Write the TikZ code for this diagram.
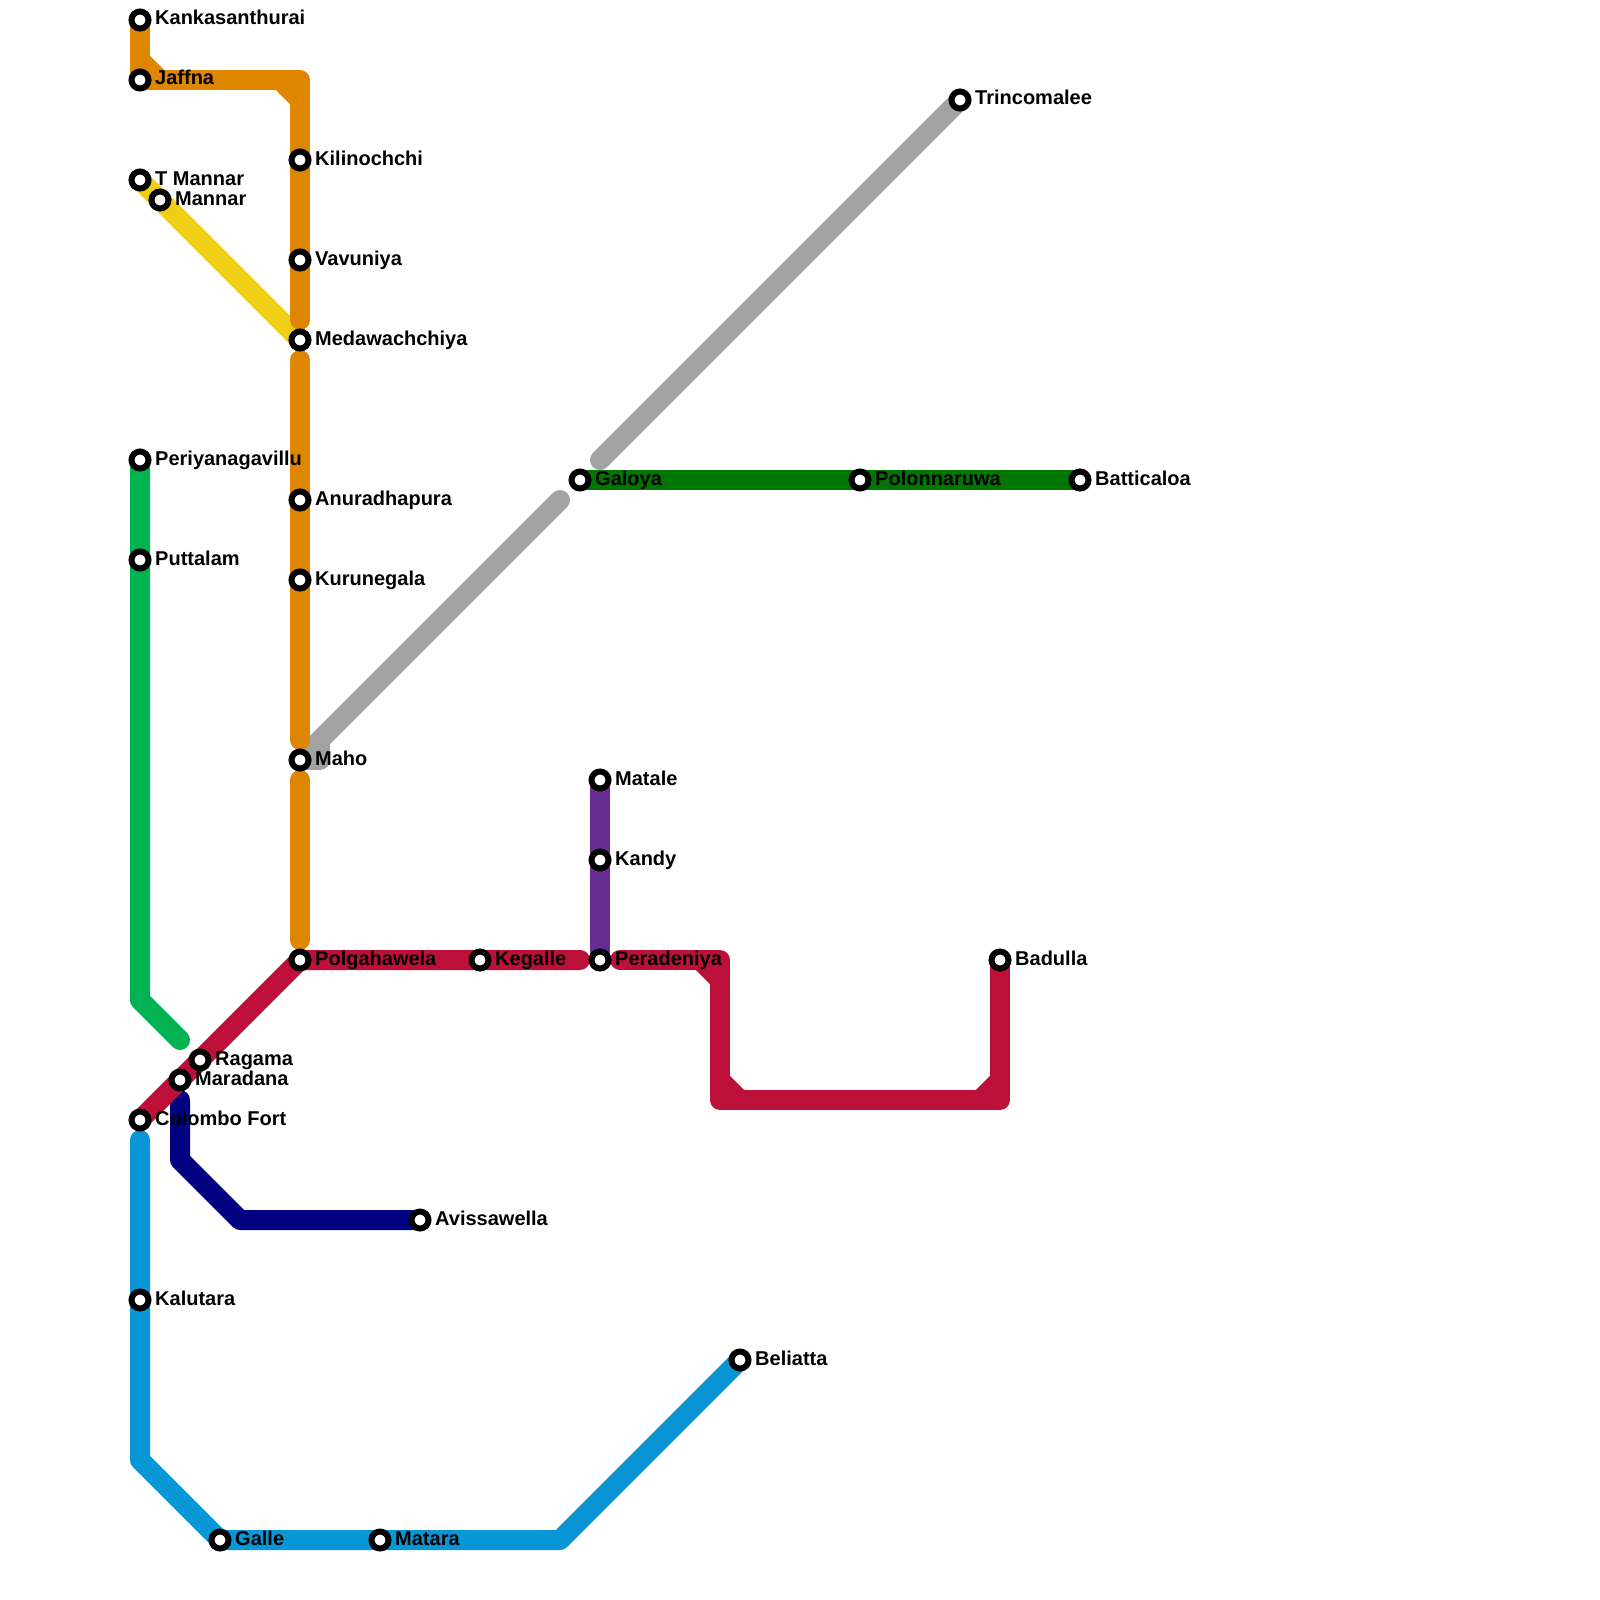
\documentclass[tikz,border=0pt]{standalone}
\usepackage{fontspec}
\setmainfont{Liberation Sans}
\usetikzlibrary{positioning, backgrounds}
\definecolor{railorange}{HTML}{DF8600}
\definecolor{railyellow}{HTML}{F0CE15}
\definecolor{railgreen}{HTML}{00B251}
\definecolor{railred}{HTML}{BD1038}
\definecolor{railnavy}{HTML}{000080}
\definecolor{railblue}{HTML}{0896D7}
\definecolor{railpurple}{HTML}{662C90}
\definecolor{railgrey}{HTML}{A2A2A2}
\definecolor{raildark}{HTML}{007500}
\begin{document}
\begin{tikzpicture}[
    x=1pt, y=-1pt,
    node distance = 3.5pt,
    stop/.style = {circle, draw=black, fill=white, line width=6pt,
                   minimum size=17pt, inner sep=0pt},
    lbl/.style = {font=\fontsize{20}{22}\selectfont\bfseries, inner sep=0pt,
                  text height=15pt, text depth=5pt, text=black},
    rail/.style = {line width=20pt, line cap=round, line join=round},
  ]
    \useasboundingbox (0,0) rectangle (1600,1600);
    % stations, north line
    \node[stop] (kankasanthurai) at (140,20) {};
    \node[lbl, right=of kankasanthurai] (kankasanthurailbl) {Kankasanthurai};
    \node[stop] (jaffna) at (140,80) {};
    \node[lbl, right=of jaffna] (jaffnalbl) {Jaffna};
    \node[stop] (kilinochchi) at (300,160) {};
    \node[lbl, right=of kilinochchi] (kilinochchilbl) {Kilinochchi};
    \node[stop] (vavuniya) at (300,260) {};
    \node[lbl, right=of vavuniya] (vavuniyalbl) {Vavuniya};
    \node[stop] (medawachchiya) at (300,340) {};
    \node[lbl, right=of medawachchiya] (medawachchiyalbl) {Medawachchiya};
    \node[stop] (anuradhapura) at (300,500) {};
    \node[lbl, right=of anuradhapura] (anuradhapuralbl) {Anuradhapura};
    \node[stop] (kurunegala) at (300,580) {};
    \node[lbl, right=of kurunegala] (kurunegalalbl) {Kurunegala};
    \node[stop] (maho) at (300,760) {};
    \node[lbl, right=of maho] (maholbl) {Maho};
    \node[stop] (polgahawela) at (300,960) {};
    \node[lbl, right=of polgahawela] (polgahawelalbl) {Polgahawela};
    % stations, Mannar and Puttalam lines
    \node[stop] (tmannar) at (140,180) {};
    \node[lbl, right=of tmannar] (tmannarlbl) {T Mannar};
    \node[stop] (mannar) at (160,200) {};
    \node[lbl, right=of mannar] (mannarlbl) {Mannar};
    \node[stop] (periyanagavillu) at (140,460) {};
    \node[lbl, right=of periyanagavillu] (periyanagavillulbl) {Periyanagavillu};
    \node[stop] (puttalam) at (140,560) {};
    \node[lbl, right=of puttalam] (puttalamlbl) {Puttalam};
    % stations, Colombo area and coast
    \node[stop] (ragama) at (200,1060) {};
    \node[lbl, right=of ragama] (ragamalbl) {Ragama};
    \node[stop] (maradana) at (180,1080) {};
    \node[lbl, right=of maradana] (maradanalbl) {Maradana};
    \node[stop] (colombo) at (140,1120) {};
    \node[lbl, right=of colombo] (colombolbl) {Colombo Fort};
    \node[stop] (avissawella) at (420,1220) {};
    \node[lbl, right=of avissawella] (avissawellalbl) {Avissawella};
    \node[stop] (kalutara) at (140,1300) {};
    \node[lbl, right=of kalutara] (kalutaralbl) {Kalutara};
    \node[stop] (galle) at (220,1540) {};
    \node[lbl, right=of galle] (gallelbl) {Galle};
    \node[stop] (matara) at (380,1540) {};
    \node[lbl, right=of matara] (mataralbl) {Matara};
    \node[stop] (beliatta) at (740,1360) {};
    \node[lbl, right=of beliatta] (beliattalbl) {Beliatta};
    % stations, hill country
    \node[stop] (kegalle) at (480,960) {};
    \node[lbl, right=of kegalle] (kegallelbl) {Kegalle};
    \node[stop] (peradeniya) at (600,960) {};
    \node[lbl, right=of peradeniya] (peradeniyalbl) {Peradeniya};
    \node[stop] (kandy) at (600,860) {};
    \node[lbl, right=of kandy] (kandylbl) {Kandy};
    \node[stop] (matale) at (600,780) {};
    \node[lbl, right=of matale] (matalelbl) {Matale};
    \node[stop] (badulla) at (1000,960) {};
    \node[lbl, right=of badulla] (badullalbl) {Badulla};
    % stations, east
    \node[stop] (galoya) at (580,480) {};
    \node[lbl, right=of galoya] (galoyalbl) {Galoya};
    \node[stop] (polonnaruwa) at (860,480) {};
    \node[lbl, right=of polonnaruwa] (polonnaruwalbl) {Polonnaruwa};
    \node[stop] (batticaloa) at (1080,480) {};
    \node[lbl, right=of batticaloa] (batticaloalbl) {Batticaloa};
    \node[stop] (trincomalee) at (960,100) {};
    \node[lbl, right=of trincomalee] (trincomaleelbl) {Trincomalee};
    % bends and free line ends
    \coordinate (jaffnaA) at (140,60);
    \coordinate (jaffnaB) at (160,80);
    \coordinate (northA) at (280,80);
    \coordinate (northB) at (300,80);
    \coordinate (northC) at (300,100);
    \coordinate (northD) at (300,320);
    \coordinate (midA) at (300,360);
    \coordinate (midB) at (300,740);
    \coordinate (midC) at (300,780);
    \coordinate (midD) at (300,940);
    \coordinate (greenA) at (140,1000);
    \coordinate (greenB) at (180,1040);
    \coordinate (navyA) at (180,1100);
    \coordinate (navyB) at (180,1160);
    \coordinate (navyC) at (240,1220);
    \coordinate (coastA) at (140,1140);
    \coordinate (coastB) at (140,1460);
    \coordinate (coastC) at (560,1540);
    \coordinate (redA) at (580,960);
    \coordinate (redB) at (620,960);
    \coordinate (redC) at (700,960);
    \coordinate (redD) at (720,960);
    \coordinate (redE) at (720,980);
    \coordinate (redF) at (720,1080);
    \coordinate (redG) at (720,1100);
    \coordinate (redH) at (740,1100);
    \coordinate (redI) at (980,1100);
    \coordinate (redJ) at (1000,1100);
    \coordinate (redK) at (1000,1080);
    \coordinate (greyA) at (320,740);
    \coordinate (greyB) at (320,760);
    \coordinate (greyC) at (560,500);
    \coordinate (greyD) at (600,460);
    % lines
    \begin{scope}[on background layer]
      \draw[rail, railyellow] (tmannar.center) -- (medawachchiya.center);
      \draw[rail, railgrey] (maho.center) -- (greyC);
      \draw[rail, railgrey] (maho.center) -- (greyB) -- (greyA);
      \draw[rail, railgrey] (greyD) -- (trincomalee.center);
      \draw[rail, railorange] (kankasanthurai.center) -- (jaffna.center) -- (northB) -- (northD);
      \draw[rail, railorange] (jaffnaA) -- (jaffnaB);
      \draw[rail, railorange] (northA) -- (northC);
      \draw[rail, railorange] (midA) -- (midB);
      \draw[rail, railorange] (midC) -- (midD);
      \draw[rail, railgreen] (periyanagavillu.center) -- (greenA) -- (greenB);
      \draw[rail, raildark] (galoya.center) -- (batticaloa.center);
      \draw[rail, railnavy] (navyA) -- (navyB) -- (navyC) -- (avissawella.center);
      \draw[rail, railblue] (coastA) -- (coastB) -- (galle.center) -- (coastC) -- (beliatta.center);
      \draw[rail, railred] (colombo.center) -- (polgahawela.center) -- (redA);
      \draw[rail, railpurple, line cap=butt] (matale.center) -- (peradeniya.center);
      \draw[rail, railred] (redB) -- (redD) -- (redG) -- (redJ) -- (badulla.center);
      \draw[rail, railred] (redC) -- (redE);
      \draw[rail, railred] (redF) -- (redH);
      \draw[rail, railred] (redI) -- (redK);
    \end{scope}
  \end{tikzpicture}
\end{document}
